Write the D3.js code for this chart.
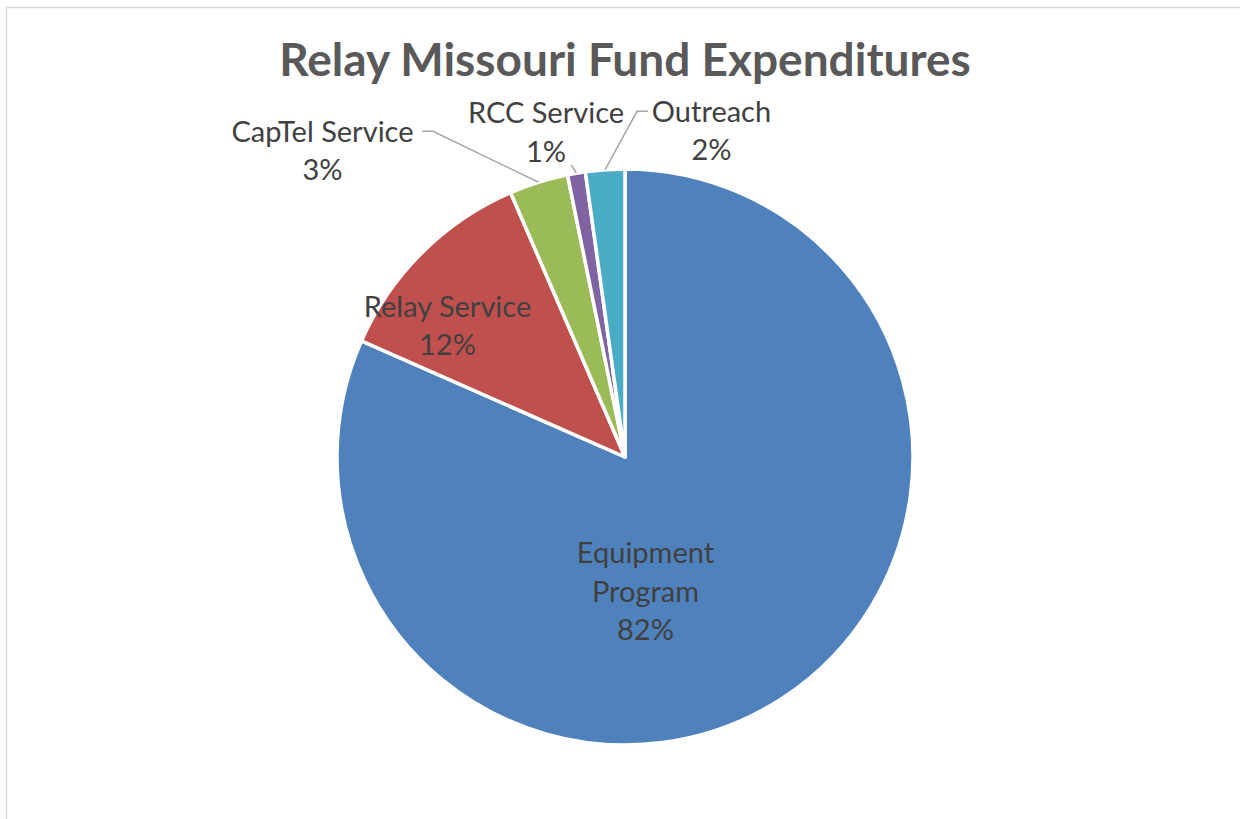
<!DOCTYPE html>
<html lang="en">
<head>
	<meta charset="UTF-8">
	<title>Relay Missouri Fund Expenditures</title>
	<style>
		html, body {
			margin: 0;
			background: #fff;
		}
		body {
			width: 1240px;
			height: 819px;
			overflow: hidden;
		}
		text {
			font-family: Lato, 'Open Sans', sans-serif;
		}
	</style>
	<script src="https://cdn.jsdelivr.net/npm/d3@7/dist/d3.min.js"></script>
	<script>
		// chart data (percent of total)
		const title = 'Relay Missouri Fund Expenditures';
		const categories = ['Equipment Program', 'Relay Service', 'CapTel Service', 'RCC Service', 'Outreach'];
		const shares = [81.6, 11.9, 3.3, 1.0, 2.2];
		const colors = ['#4F81BD', '#C0504D', '#9BBB59', '#8064A2', '#4BACC6'];

		// label lines, split the way the original wraps them
		const labelLines = [['Equipment', 'Program'], ['Relay Service'], ['CapTel Service'], ['RCC Service'], ['Outreach']];

		window.addEventListener('load', function() {
			const config = {
				width: 1240,
				height: 819,
				cx: 625,
				cy: 457,
				radius: 288,
				labelSize: 29,
				lineHeight: 38.7,
				labelColor: '#404040',
				titleColor: '#595959',
				leader: '#a6a6a6',
			};

			// where each label block sits (center x, first baseline) and whether it has a leader line
			const labelPlacement = [
				{ x: 645.5, y: 563, leader: null },
				{ x: 447.5, y: 316.5, leader: null },
				{ x: 322.5, y: 141.5, leader: { side: 'right', elbow: 433 } },
				{ x: 546, y: 123, leader: { side: 'below', elbow: null } },
				{ x: 711.5, y: 121.5, leader: { side: 'left', elbow: 637 } },
			];

			const svg = d3.select('#container')
				.attr('width', config.width)
				.attr('height', config.height);

			// chart area border
			svg.append('rect')
				.attr('x', 6.5)
				.attr('y', 7.5)
				.attr('width', config.width + 20)
				.attr('height', config.height + 20)
				.attr('fill', 'none')
				.attr('stroke', '#d9d9d9')
				.attr('stroke-width', 1.5);

			svg.append('text')
				.attr('x', config.cx)
				.attr('y', 76)
				.attr('text-anchor', 'middle')
				.attr('font-size', '46px')
				.attr('font-weight', 700)
				.attr('fill', config.titleColor)
				.text(title);

			const data = categories.map((name, i) => ({ name, value: shares[i], color: colors[i], i }));
			const total = d3.sum(shares);

			const pie = d3.pie().sort(null).value(d => d.value);
			const arc = d3.arc().innerRadius(0).outerRadius(config.radius);
			const arcs = pie(data);

			const g = svg.append('g').attr('transform', `translate(${config.cx},${config.cy})`);

			g.selectAll('path')
				.data(arcs)
				.enter()
				.append('path')
				.attr('d', arc)
				.attr('fill', d => d.data.color)
				.attr('stroke', '#fff')
				.attr('stroke-width', 3.5)
				.attr('stroke-linejoin', 'round');

			// leader lines from the label to the middle of the slice edge
			arcs.forEach((a, i) => {
				const place = labelPlacement[i];
				if (!place.leader) return;
				const mid = (a.startAngle + a.endAngle) / 2;
				const ex = config.cx + config.radius * Math.sin(mid);
				const ey = config.cy - config.radius * Math.cos(mid);
				let pts;
				const lineY = place.y - 0.35 * config.labelSize;
				if (place.leader.side === 'right') {
					pts = [[place.leader.elbow - 11, lineY], [place.leader.elbow, lineY], [ex, ey]];
				} else if (place.leader.side === 'left') {
					pts = [[place.leader.elbow + 11, lineY], [place.leader.elbow, lineY], [ex, ey]];
				} else {
					pts = [[ex - 5, ey - 8], [ex, ey]];
				}
				svg.append('path')
					.attr('d', d3.line()(pts))
					.attr('fill', 'none')
					.attr('stroke', config.leader)
					.attr('stroke-width', 1.5);
			});

			// data labels
			arcs.forEach((a, i) => {
				const place = labelPlacement[i];
				const lines = labelLines[i].concat([Math.round(a.data.value / total * 100) + '%']);
				const t = svg.append('text')
					.attr('text-anchor', 'middle')
					.attr('font-size', config.labelSize + 'px')
					.attr('fill', config.labelColor);
				lines.forEach((s, k) => {
					t.append('tspan')
						.attr('x', place.x)
						.attr('y', place.y + k * config.lineHeight)
						.text(s);
				});
			});
		});
	</script>
</head>
<body>
	<svg id="container"></svg>
</body>
</html>
